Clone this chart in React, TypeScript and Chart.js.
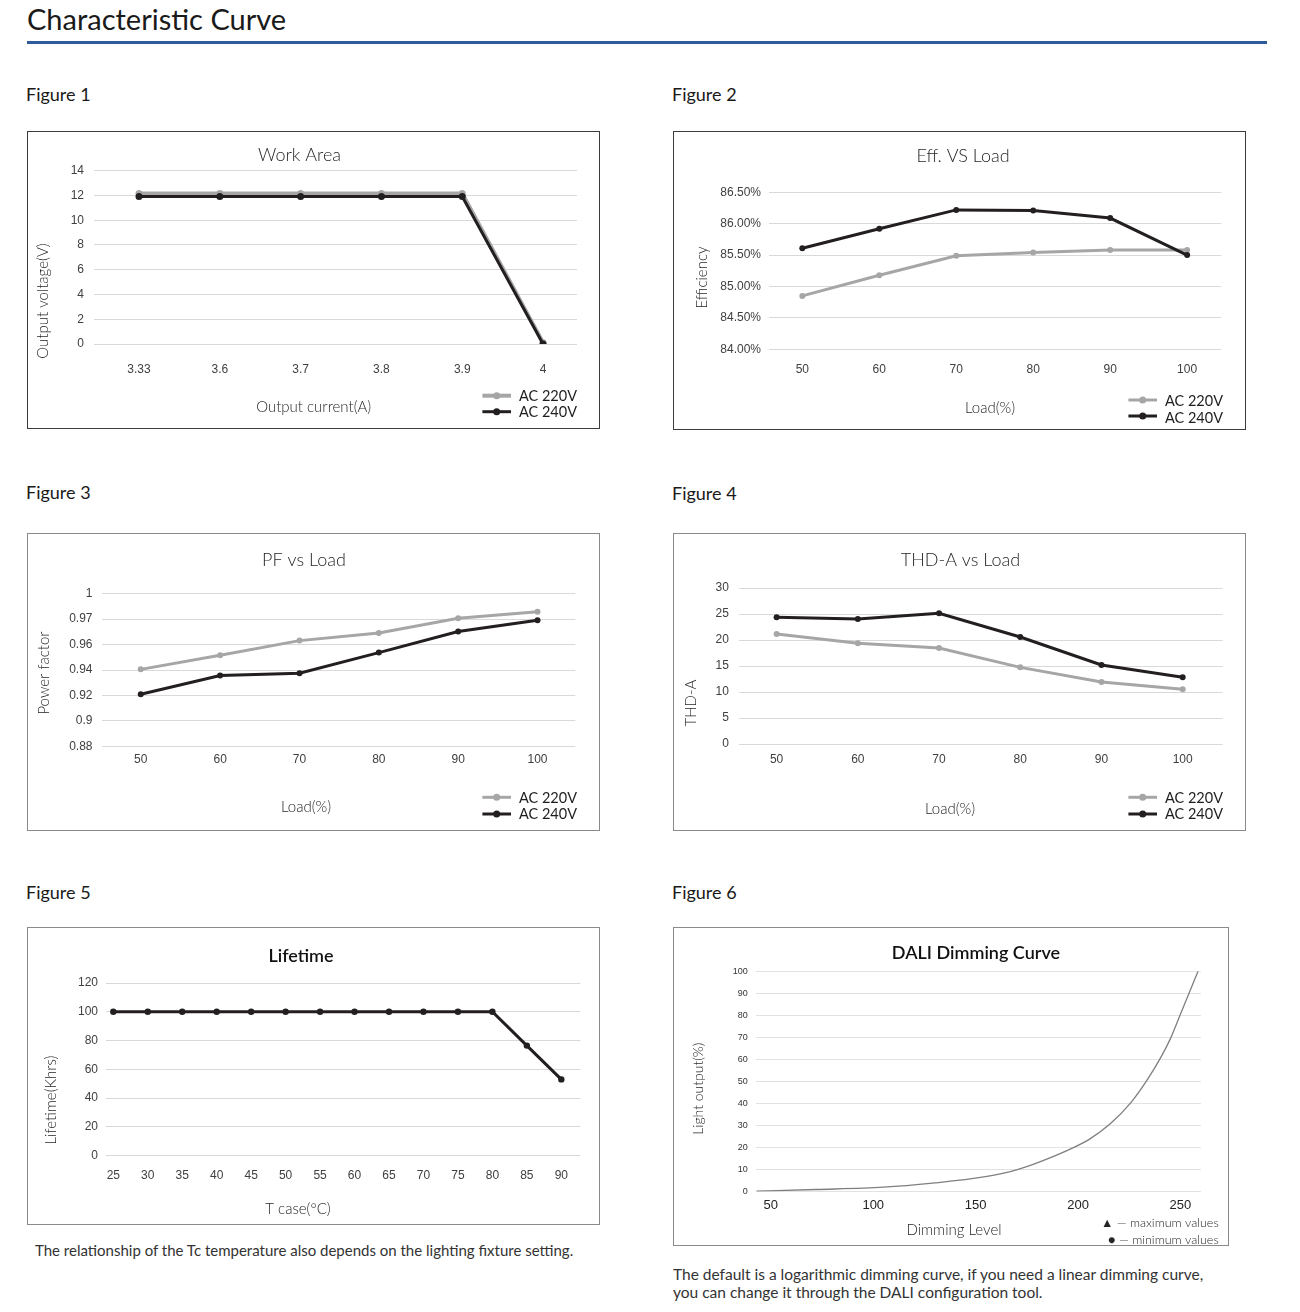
import React, { useEffect, useRef } from 'react';
import { Chart, registerables } from 'chart.js';

Chart.register(...registerables);

const GEO = 'Lato, "Open Sans", "DejaVu Sans", sans-serif';
const ARIAL = '"Liberation Sans", Arial, sans-serif';
const GRAY = '#a6a6a6';
const BLACK = '#231f20';

// ---------------- data ----------------
const seriesNames = ['AC 220V', 'AC 240V'];

const workCurrentLabels = ['3.33', '3.6', '3.7', '3.8', '3.9', '4'];
const workVoltage220 = [12.15, 12.15, 12.15, 12.15, 12.15, 0.1];
const workVoltage240 = [11.92, 11.92, 11.92, 11.92, 11.92, 0];

const loadPercent = [50, 60, 70, 80, 90, 100];
const efficiency220 = [84.85, 85.18, 85.49, 85.54, 85.58, 85.58];
const efficiency240 = [85.61, 85.92, 86.22, 86.21, 86.09, 85.5];

const powerFactor220 = [0.9405, 0.9516, 0.9631, 0.9691, 0.9807, 0.9859];
const powerFactor240 = [0.9209, 0.9356, 0.9374, 0.9537, 0.9702, 0.9791];
const pfTickLabels = ['0.88', '0.9', '0.92', '0.94', '0.96', '0.97', '1'];

const thd220 = [21.15, 19.36, 18.46, 14.74, 11.92, 10.51];
const thd240 = [24.36, 24.04, 25.13, 20.58, 15.19, 12.82];

const caseTemps = [25, 30, 35, 40, 45, 50, 55, 60, 65, 70, 75, 80, 85, 90];
const lifetimeKhrs = [100, 100, 100, 100, 100, 100, 100, 100, 100, 100, 100, 100, 76.5, 53];

const dimTickLevels = [50, 100, 150, 200, 250];
const dimLevels = [43, 72, 105, 129, 154, 170, 181, 198, 206, 216, 225.5, 233.3, 240.5, 245.4, 249.8, 254.2, 258.6];
const dimOutput = [0.15, 0.9, 1.95, 3.8, 6.6, 9.8, 13.3, 20, 24, 31, 40, 50, 61, 70, 80, 90, 100];

// ---------------- helpers ----------------
function lineSeries(label: string, xs: number[], ys: number[], color: string, width: number, radius: number, order: number, extra: any = {}) {
  return {
    label,
    data: xs.map((x, i) => ({ x, y: ys[i] })),
    borderColor: color,
    backgroundColor: color,
    borderWidth: width,
    pointRadius: radius,
    pointHoverRadius: radius,
    pointBackgroundColor: color,
    pointBorderWidth: 0,
    tension: 0,
    order,
    ...extra,
  };
}

function makeTextPlugin(items: any[]) {
  return {
    id: 'figText',
    afterDraw(chart: any) {
      const ctx = chart.ctx;
      items.forEach((t) => {
        ctx.save();
        ctx.font = t.font;
        ctx.fillStyle = t.color || '#262626';
        ctx.textAlign = t.align || 'center';
        ctx.textBaseline = t.baseline || 'alphabetic';
        ctx.translate(t.x, t.y);
        if (t.rotate) ctx.rotate(-Math.PI / 2);
        ctx.fillText(t.text, 0, 0);
        ctx.restore();
      });
    },
  };
}

function makeLegendPlugin(lg: any) {
  return {
    id: 'figLegend',
    afterDraw(chart: any) {
      if (!lg) return;
      const ctx = chart.ctx;
      chart.data.datasets.forEach((ds: any, i: number) => {
        const y = lg.rows[i];
        ctx.save();
        ctx.strokeStyle = ds.borderColor;
        ctx.lineWidth = ds.borderWidth;
        ctx.beginPath();
        ctx.moveTo(lg.x0, y);
        ctx.lineTo(lg.x1, y);
        ctx.stroke();
        ctx.fillStyle = ds.borderColor;
        ctx.beginPath();
        ctx.arc((lg.x0 + lg.x1) / 2, y, lg.dot, 0, Math.PI * 2);
        ctx.fill();
        ctx.font = lg.font;
        ctx.fillStyle = '#1e1e1e';
        ctx.textAlign = 'left';
        ctx.textBaseline = 'alphabetic';
        ctx.fillText(ds.label, lg.textX, lg.textY[i]);
        ctx.restore();
      });
    },
  };
}

const tickFont = { family: ARIAL, size: 12 };
const TITLE_FONT = `300 18px ${GEO}`;
const AXIS_FONT = `300 15px ${GEO}`;
const LEGEND_FONT = `400 14.5px ${GEO}`;

function buildConfig(spec: any): any {
  const a = spec.area;
  return {
    type: 'line',
    data: { datasets: spec.datasets },
    options: {
      animation: false,
      responsive: false,
      maintainAspectRatio: false,
      events: [],
      layout: { autoPadding: false, padding: { left: 0, top: a.top, right: spec.w - a.right, bottom: 0 } },
      plugins: { legend: { display: false }, tooltip: { enabled: false }, title: { display: false } },
      scales: {
        x: {
          type: 'linear',
          min: spec.x.min,
          max: spec.x.max,
          grid: { display: false, drawTicks: false },
          border: { display: false },
          afterBuildTicks: (s: any) => {
            s.ticks = spec.x.ticks.map((v: number) => ({ value: v }));
          },
          afterFit: (s: any) => {
            s.height = spec.h - a.bottom;
          },
          ticks: {
            autoSkip: false,
            maxRotation: 0,
            padding: spec.x.padding,
            color: spec.x.color || '#404040',
            font: spec.x.font || tickFont,
            callback: spec.x.label || ((v: number) => String(v)),
          },
        },
        y: {
          type: 'linear',
          min: spec.y.min,
          max: spec.y.max,
          grid: { color: spec.gridColor || '#d9d9d9', lineWidth: 1, drawTicks: false },
          border: { display: false },
          afterFit: (s: any) => {
            s.width = a.left;
          },
          ticks: {
            stepSize: spec.y.step,
            padding: spec.y.padding,
            color: spec.y.color || '#404040',
            font: spec.y.font || tickFont,
            callback: spec.y.label || ((v: number) => String(v)),
          },
        },
      },
    },
    plugins: [makeTextPlugin(spec.texts), makeLegendPlugin(spec.legend)],
  };
}

const legendLeft = (rows: number[], textY: number[]) => ({
  x0: 454.4,
  x1: 483,
  rows,
  textX: 491,
  textY,
  font: LEGEND_FONT,
  dot: 3.5,
});

// ---------------- chart specs ----------------
const fig1Spec = {
  w: 571,
  h: 296,
  area: { left: 66, right: 549, top: 38.7, bottom: 212 },
  datasets: [
    lineSeries(seriesNames[0], workCurrentLabels.map((_, i) => i), workVoltage220, GRAY, 4, 3.5, 2),
    lineSeries(seriesNames[1], workCurrentLabels.map((_, i) => i), workVoltage240, BLACK, 3, 3.5, 1),
  ],
  x: { min: -0.557, max: 5.42, ticks: workCurrentLabels.map((_, i) => i), label: (v: number) => workCurrentLabels[v], padding: 18.8 },
  y: { min: 0, max: 14, step: 2, padding: 10 },
  texts: [
    { text: 'Work Area', x: 271.5, y: 29, font: TITLE_FONT },
    { text: 'Output current(A)', x: 285.7, y: 279.7, font: AXIS_FONT },
    { text: 'Output voltage(V)', x: 15.5, y: 169, font: AXIS_FONT, rotate: true, baseline: 'middle' },
  ],
  legend: legendLeft([263.7, 279.7], [268.7, 284.7]),
};

const fig2Spec = {
  w: 571,
  h: 297,
  area: { left: 95, right: 547.3, top: 60.3, bottom: 217.3 },
  datasets: [
    lineSeries(seriesNames[0], loadPercent, efficiency220, GRAY, 3, 3, 2),
    lineSeries(seriesNames[1], loadPercent, efficiency240, BLACK, 3, 3, 1),
  ],
  x: { min: 45.67, max: 104.44, ticks: loadPercent, padding: 13.5 },
  y: { min: 84, max: 86.5, step: 0.5, padding: 8, label: (v: number) => v.toFixed(2) + '%' },
  texts: [
    { text: 'Eff. VS Load', x: 289, y: 30.3, font: TITLE_FONT },
    { text: 'Load(%)', x: 316, y: 281.3, font: AXIS_FONT },
    { text: 'Efficiency', x: 28, y: 145.5, font: AXIS_FONT, rotate: true, baseline: 'middle' },
  ],
  legend: legendLeft([268, 284], [274, 290.7]),
};

const fig3Spec = {
  w: 571,
  h: 296,
  area: { left: 73.5, right: 547.3, top: 59.7, bottom: 212.3 },
  datasets: [
    lineSeries(seriesNames[0], loadPercent, powerFactor220, GRAY, 3, 3, 2),
    lineSeries(seriesNames[1], loadPercent, powerFactor240, BLACK, 3, 3, 1),
  ],
  x: { min: 45.05, max: 104.76, ticks: loadPercent, padding: 6.2 },
  y: { min: 0.88, max: 1.0, step: 0.02, padding: 9, label: (_v: number, i: number) => pfTickLabels[i] },
  texts: [
    { text: 'PF vs Load', x: 276, y: 32.3, font: TITLE_FONT },
    { text: 'Load(%)', x: 278, y: 278.3, font: AXIS_FONT },
    { text: 'Power factor', x: 16.6, y: 139, font: AXIS_FONT, rotate: true, baseline: 'middle' },
  ],
  legend: legendLeft([263.3, 280], [269, 285]),
};

const fig4Spec = {
  w: 571,
  h: 296,
  area: { left: 65.1, right: 548.8, top: 54, bottom: 210 },
  datasets: [
    lineSeries(seriesNames[0], loadPercent, thd220, GRAY, 3, 3, 2),
    lineSeries(seriesNames[1], loadPercent, thd240, BLACK, 3, 3, 1),
  ],
  x: { min: 45.38, max: 104.94, ticks: loadPercent, padding: 8.5 },
  y: { min: 0, max: 30, step: 5, padding: 10.3 },
  texts: [
    { text: 'THD-A vs Load', x: 286.5, y: 32.3, font: TITLE_FONT },
    { text: 'Load(%)', x: 276, y: 279.7, font: AXIS_FONT },
    { text: 'THD-A', x: 17.4, y: 169, font: AXIS_FONT, rotate: true, baseline: 'middle' },
  ],
  legend: legendLeft([263.3, 280], [269, 285]),
};

const fig5Spec = {
  w: 571,
  h: 296,
  area: { left: 78, right: 552.4, top: 55, bottom: 227.7 },
  datasets: [lineSeries('Lifetime', caseTemps, lifetimeKhrs, BLACK, 3, 3.2, 1)],
  x: { min: 23.94, max: 92.77, ticks: caseTemps, padding: 12.8 },
  y: { min: 0, max: 120, step: 20, padding: 8 },
  texts: [
    { text: 'Lifetime', x: 273, y: 34, font: `600 18px ${GEO}`, color: '#111' },
    { text: 'T case(°C)', x: 270, y: 285.7, font: AXIS_FONT },
    { text: 'Lifetime(Khrs)', x: 22.9, y: 172, font: AXIS_FONT, rotate: true, baseline: 'middle' },
  ],
  legend: null,
};

const fig6Spec = {
  w: 554,
  h: 317,
  area: { left: 81.9, right: 526.9, top: 43.3, bottom: 263.5 },
  gridColor: '#e2e2e2',
  datasets: [
    lineSeries('Light output', dimLevels, dimOutput, '#7f7f7f', 1.3, 0, 1, { cubicInterpolationMode: 'monotone' }),
  ],
  x: { min: 42.7, max: 260, ticks: dimTickLevels, padding: 6, font: { family: ARIAL, size: 13 }, color: '#222' },
  y: { min: 0, max: 100, step: 10, padding: 8.2, font: { family: ARIAL, size: 9 }, color: '#333' },
  texts: [
    { text: 'DALI Dimming Curve', x: 302, y: 31.3, font: `600 18px ${GEO}`, color: '#111' },
    { text: 'Dimming Level', x: 280, y: 307.3, font: AXIS_FONT },
    { text: 'Light output(%)', x: 24, y: 160.7, font: `300 14px ${GEO}`, rotate: true, baseline: 'middle' },
    { text: '▲ — maximum values', x: 544.7, y: 299, font: `300 12.5px ${GEO}`, align: 'right' },
    { text: '● — minimum values', x: 544.7, y: 315.7, font: `300 12.5px ${GEO}`, align: 'right' },
  ],
  legend: null,
};

// ---------------- components ----------------
function FigureChart({ spec }: { spec: any }) {
  const ref = useRef<HTMLCanvasElement | null>(null);
  useEffect(() => {
    if (!ref.current) return;
    const chart = new Chart(ref.current, buildConfig(spec));
    return () => chart.destroy();
  }, [spec]);
  return <canvas ref={ref} width={spec.w} height={spec.h} style={{ width: spec.w, height: spec.h, display: 'block' }} />;
}

const boxes = [
  { key: 'f1', left: 27, top: 131, w: 573, h: 298, border: '#3c3c3c', spec: fig1Spec },
  { key: 'f2', left: 673, top: 131, w: 573, h: 299, border: '#3c3c3c', spec: fig2Spec },
  { key: 'f3', left: 27, top: 533, w: 573, h: 298, border: '#8a8a8a', spec: fig3Spec },
  { key: 'f4', left: 673, top: 533, w: 573, h: 298, border: '#8a8a8a', spec: fig4Spec },
  { key: 'f5', left: 27, top: 927, w: 573, h: 298, border: '#8a8a8a', spec: fig5Spec },
  { key: 'f6', left: 673, top: 927, w: 556, h: 319, border: '#8a8a8a', spec: fig6Spec },
];

const figureLabels = [
  { text: 'Figure 1', left: 26, baseline: 101 },
  { text: 'Figure 2', left: 672, baseline: 101 },
  { text: 'Figure 3', left: 26, baseline: 499 },
  { text: 'Figure 4', left: 672, baseline: 500 },
  { text: 'Figure 5', left: 26, baseline: 899 },
  { text: 'Figure 6', left: 672, baseline: 899 },
];

const captions = [
  { text: 'The relationship of the Tc temperature also depends on the lighting fixture setting.', left: 35, baseline: 1256, size: 15 },
  { text: 'The default is a logarithmic dimming curve, if you need a linear dimming curve,', left: 673, baseline: 1281, size: 15.5 },
  { text: 'you can change it through the DALI configuration tool.', left: 673, baseline: 1299, size: 15.5 },
];

function TextAt({ text, left, baseline, size, color, weight }: any) {
  return (
    <div
      style={{
        position: 'absolute',
        left,
        top: baseline - 0.887 * size,
        fontSize: size,
        lineHeight: `${size}px`,
        color,
        fontWeight: weight,
        whiteSpace: 'nowrap',
      }}
    >
      {text}
    </div>
  );
}

export default function App() {
  return (
    <div style={{ position: 'absolute', left: 0, top: 0, width: 1300, height: 1312, background: '#fff', fontFamily: GEO }}>
      <TextAt text="Characteristic Curve" left={27} baseline={30} size={29} color="#1a1a1a" weight={400} />
      <div style={{ position: 'absolute', left: 27, top: 41, width: 1240, height: 3, background: '#2f5b9a' }} />
      {figureLabels.map((f) => (
        <TextAt key={f.text} text={f.text} left={f.left} baseline={f.baseline} size={18} color="#1a1a1a" weight={400} />
      ))}
      {boxes.map((b) => (
        <div
          key={b.key}
          style={{
            position: 'absolute',
            left: b.left,
            top: b.top,
            width: b.w,
            height: b.h,
            boxSizing: 'border-box',
            border: `1px solid ${b.border}`,
            background: '#fff',
          }}
        >
          <FigureChart spec={b.spec} />
        </div>
      ))}
      {captions.map((c) => (
        <TextAt key={c.text} text={c.text} left={c.left} baseline={c.baseline} size={c.size} color="#333" weight={400} />
      ))}
    </div>
  );
}
